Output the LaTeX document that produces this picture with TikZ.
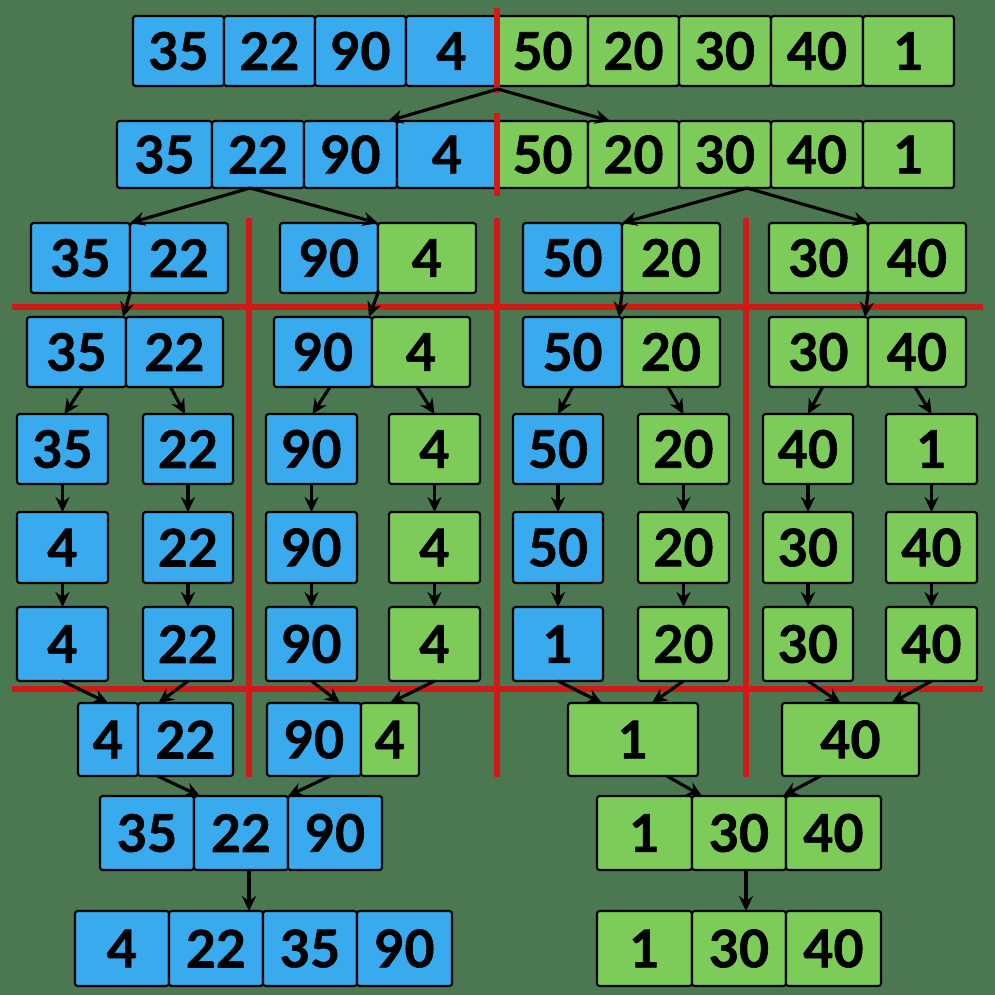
\documentclass[tikz,border=0pt]{standalone}
\usepackage{fontspec}
\newfontfamily\numfont[BoldFeatures={FakeBold=1.2}]{Lato}
\usetikzlibrary{arrows.meta,calc}
\definecolor{bgc}{HTML}{4B7850}
\definecolor{cblue}{HTML}{3AAAEE}
\definecolor{cgreen}{HTML}{7DCC5A}
\definecolor{cred}{HTML}{D01A18}
\tikzset{
 cellbox/.style={draw=black, line width=1.2pt, rounded corners=1.5pt, inner sep=0pt, outer sep=0pt, font=\numfont\bfseries\fontsize{29.5}{29.5}\selectfont, text=black},
 conn/.style={-{Stealth[length=8.5pt,width=8pt]}, line width=1.8pt, black},
 divider/.style={cred, line width=3.4pt},
}
\newcommand\mkcell[7]{\node[cellbox, fill=#6, minimum width={(#4-#2)*0.02cm}, minimum height={(#5-#3)*0.02cm}] (#1) at ({(#2+#4)/2},{(#3+#5)/2}) {#7};}
\begin{document}
\begin{tikzpicture}[x=0.02cm,y=-0.02cm]
\useasboundingbox (0,0) rectangle (995,995);
\fill[bgc] (0,0) rectangle (995,995);
% Row 1
\mkcell{r1c1}{133}{16}{224}{86}{cblue}{35}
\mkcell{r1c2}{224}{16}{315}{86}{cblue}{22}
\mkcell{r1c3}{315}{16}{406}{86}{cblue}{90}
\mkcell{r1c4}{406}{16}{497}{86}{cblue}{4}
\mkcell{r1c5}{497}{16}{588}{86}{cgreen}{50}
\mkcell{r1c6}{588}{16}{679}{86}{cgreen}{20}
\mkcell{r1c7}{679}{16}{771}{86}{cgreen}{30}
\mkcell{r1c8}{771}{16}{863}{86}{cgreen}{40}
\mkcell{r1c9}{863}{16}{954}{86}{cgreen}{1}
% Row 2
\mkcell{r2c1}{117}{121}{212}{188}{cblue}{35}
\mkcell{r2c2}{212}{121}{304}{188}{cblue}{22}
\mkcell{r2c3}{304}{121}{397}{188}{cblue}{90}
\mkcell{r2c4}{397}{121}{497}{188}{cblue}{4}
\mkcell{r2c5}{497}{121}{588}{188}{cgreen}{50}
\mkcell{r2c6}{588}{121}{679}{188}{cgreen}{20}
\mkcell{r2c7}{679}{121}{771}{188}{cgreen}{30}
\mkcell{r2c8}{771}{121}{863}{188}{cgreen}{40}
\mkcell{r2c9}{863}{121}{954}{188}{cgreen}{1}
% Row 3
\mkcell{r3a1}{31}{223}{130}{293}{cblue}{35}
\mkcell{r3a2}{130}{223}{228}{293}{cblue}{22}
\mkcell{r3b1}{280}{223}{378}{293}{cblue}{90}
\mkcell{r3b2}{378}{223}{476}{293}{cgreen}{4}
\mkcell{r3c1}{523}{223}{622}{293}{cblue}{50}
\mkcell{r3c2}{622}{223}{720}{293}{cgreen}{20}
\mkcell{r3d1}{769}{223}{868}{293}{cgreen}{30}
\mkcell{r3d2}{868}{223}{966}{293}{cgreen}{40}
% Row 4
\mkcell{r4a1}{27}{317}{126}{387}{cblue}{35}
\mkcell{r4a2}{126}{317}{223}{387}{cblue}{22}
\mkcell{r4b1}{274}{317}{372}{387}{cblue}{90}
\mkcell{r4b2}{372}{317}{470}{387}{cgreen}{4}
\mkcell{r4c1}{523}{317}{622}{387}{cblue}{50}
\mkcell{r4c2}{622}{317}{720}{387}{cgreen}{20}
\mkcell{r4d1}{769}{317}{868}{387}{cgreen}{30}
\mkcell{r4d2}{868}{317}{966}{387}{cgreen}{40}
% Row 5
\mkcell{r5a}{17}{414}{108}{484}{cblue}{35}
\mkcell{r5b}{143}{414}{233}{484}{cblue}{22}
\mkcell{r5c}{266}{414}{357}{484}{cblue}{90}
\mkcell{r5d}{389}{414}{480}{484}{cgreen}{4}
\mkcell{r5e}{513}{414}{603}{484}{cblue}{50}
\mkcell{r5f}{638}{414}{729}{484}{cgreen}{20}
\mkcell{r5g}{763}{414}{853}{484}{cgreen}{40}
\mkcell{r5h}{886}{414}{977}{484}{cgreen}{1}
% Row 6
\mkcell{r6a}{17}{512}{108}{583}{cblue}{4}
\mkcell{r6b}{143}{512}{233}{583}{cblue}{22}
\mkcell{r6c}{266}{512}{357}{583}{cblue}{90}
\mkcell{r6d}{389}{512}{480}{583}{cgreen}{4}
\mkcell{r6e}{513}{512}{603}{583}{cblue}{50}
\mkcell{r6f}{638}{512}{729}{583}{cgreen}{20}
\mkcell{r6g}{763}{512}{853}{583}{cgreen}{30}
\mkcell{r6h}{886}{512}{977}{583}{cgreen}{40}
% Row 7
\mkcell{r7a}{17}{607}{108}{681}{cblue}{4}
\mkcell{r7b}{143}{607}{233}{681}{cblue}{22}
\mkcell{r7c}{266}{607}{357}{681}{cblue}{90}
\mkcell{r7d}{389}{607}{480}{681}{cgreen}{4}
\mkcell{r7e}{513}{607}{603}{681}{cblue}{1}
\mkcell{r7f}{638}{607}{729}{681}{cgreen}{20}
\mkcell{r7g}{763}{607}{853}{681}{cgreen}{30}
\mkcell{r7h}{886}{607}{977}{681}{cgreen}{40}
% Row 8
\mkcell{r8a1}{78}{703}{138}{776}{cblue}{4}
\mkcell{r8a2}{138}{703}{233}{776}{cblue}{22}
\mkcell{r8b1}{267}{703}{361}{776}{cblue}{90}
\mkcell{r8b2}{361}{703}{419}{776}{cgreen}{4}
\mkcell{r8c}{568}{703}{698}{776}{cgreen}{1}
\mkcell{r8d}{782}{703}{919}{776}{cgreen}{40}
% Row 9
\mkcell{r9a1}{100}{796}{194}{870}{cblue}{35}
\mkcell{r9a2}{194}{796}{288}{870}{cblue}{22}
\mkcell{r9a3}{288}{796}{382}{870}{cblue}{90}
\mkcell{r9b1}{597}{796}{692}{870}{cgreen}{1}
\mkcell{r9b2}{692}{796}{786}{870}{cgreen}{30}
\mkcell{r9b3}{786}{796}{881}{870}{cgreen}{40}
% Row 10
\mkcell{r10a1}{75}{911}{169}{986}{cblue}{4}
\mkcell{r10a2}{169}{911}{263}{986}{cblue}{22}
\mkcell{r10a3}{263}{911}{357}{986}{cblue}{35}
\mkcell{r10a4}{357}{911}{452}{986}{cblue}{90}
\mkcell{r10b1}{597}{911}{692}{986}{cgreen}{1}
\mkcell{r10b2}{692}{911}{786}{986}{cgreen}{30}
\mkcell{r10b3}{786}{911}{881}{986}{cgreen}{40}
% Red dividers
\draw[divider] (497,8) -- (497,93);
\draw[divider] (497,113) -- (497,196);
\draw[divider] (249,218) -- (249,777);
\draw[divider] (497,218) -- (497,777);
\draw[divider] (746,218) -- (746,777);
\draw[divider] (12,307) -- (983,307);
\draw[divider] (12,689) -- (983,689);
% Connectors
\draw[conn] ($(r1c4.south east)+(1,3)$) -- ($(r2c3.north east)+(-9,0)$);
\draw[conn] ($(r1c4.south east)+(1,3)$) -- ($(r2c6.north west)+(22,0)$);
\draw[conn] ($(r2c2.south)+(-8,0)$) -- (r3a1.north east);
\draw[conn] ($(r2c2.south)+(-8,0)$) -- (r3b1.north east);
\draw[conn] ($(r2c7.south)+(22,0)$) -- (r3c1.north east);
\draw[conn] ($(r2c7.south)+(22,0)$) -- (r3d1.north east);
\foreach \g in {a,b,c,d}{
 \draw[conn] (r3\g1.south east) -- ($(r4\g1.north east)+(-3,0)$);
}
\draw[conn] ($(r4a1.south)+(6,0)$) -- ($(r5a.north)+(2,0)$);
\draw[conn] ($(r4a2.south)+(-4,0)$) -- ($(r5b.north)+(-3,0)$);
\draw[conn] ($(r4b1.south)+(7,0)$) -- ($(r5c.north)+(1,0)$);
\draw[conn] ($(r4b2.south)+(-4,0)$) -- (r5d.north);
\draw[conn] (r4c1.south) -- (r5e.north);
\draw[conn] ($(r4c2.south)+(-3,0)$) -- (r5f.north);
\draw[conn] ($(r4d1.south)+(4,0)$) -- (r5g.north);
\draw[conn] ($(r4d2.south)+(-2,0)$) -- (r5h.north);
\foreach \g in {a,b,c,d,e,f,g,h}{
 \draw[conn] (r5\g.south) -- (r6\g.north);
 \draw[conn] (r6\g.south) -- (r7\g.north);
}
\draw[conn] (r7a.south) -- (r8a1.north);
\draw[conn] (r7b.south) -- ($(r8a2.north)+(-27,0)$);
\draw[conn] (r7c.south) -- ($(r8b1.north)+(26,0)$);
\draw[conn] (r7d.south) -- (r8b2.north);
\draw[conn] (r7e.south) -- ($(r8c.north)+(-31,0)$);
\draw[conn] (r7f.south) -- ($(r8c.north)+(19,0)$);
\draw[conn] (r7g.south) -- ($(r8d.north)+(-10,0)$);
\draw[conn] (r7h.south) -- ($(r8d.north)+(41,0)$);
\draw[conn] ($(r8a2.south)+(-28,0)$) -- ($(r9a1.north east)+(6,0)$);
\draw[conn] ($(r8b1.south)+(16,0)$) -- (r9a2.north east);
\draw[conn] ($(r8c.south)+(34,0)$) -- ($(r9b2.north west)+(10,0)$);
\draw[conn] ($(r8d.south)+(-30,0)$) -- ($(r9b2.north east)+(-3,0)$);
\draw[conn] ($(r9a2.south)+(8,0)$) -- ($(r10a2.north)+(33,0)$);
\draw[conn] ($(r9b2.south)+(7,0)$) -- ($(r10b2.north)+(7,0)$);
\end{tikzpicture}
\end{document}
